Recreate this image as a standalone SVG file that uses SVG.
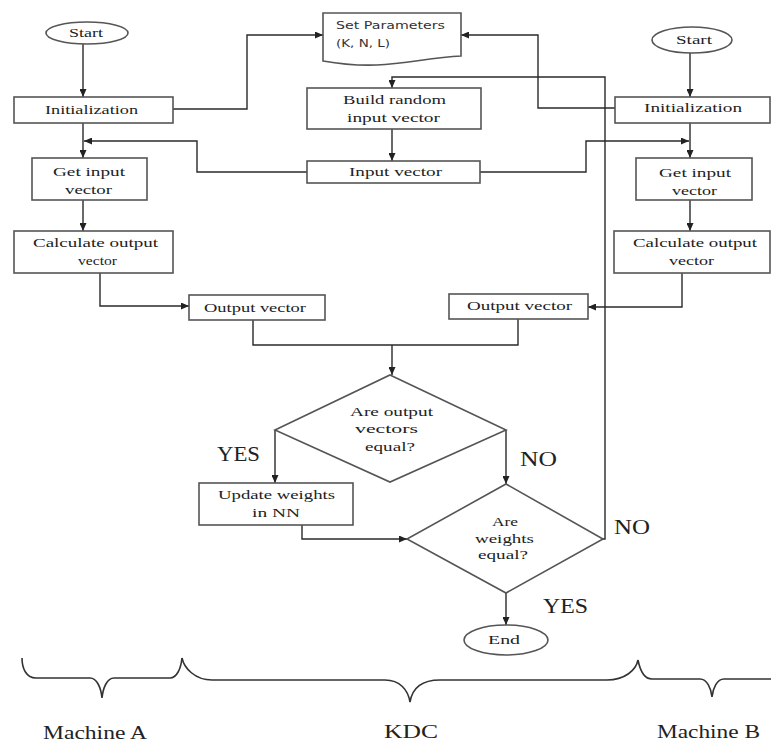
<svg xmlns="http://www.w3.org/2000/svg" width="771" height="745" viewBox="0 0 771 745">
<defs>
<marker id="ah" markerUnits="userSpaceOnUse" markerWidth="8" markerHeight="7" refX="8" refY="3.5" orient="auto">
<path d="M0,0 L8,3.5 L0,7 z" fill="#222"/>
</marker>
<style>
.box{fill:#fff;stroke:#555;stroke-width:1.6}
.t{font-family:"Liberation Serif",serif;font-size:13px;fill:#222;text-anchor:middle}
.ts{font-family:"DejaVu Sans","Liberation Sans",sans-serif;font-size:11px;fill:#333}
.big{font-family:"Liberation Serif",serif;font-size:22px;fill:#222}
.lab{font-family:"Liberation Serif",serif;font-size:19px;fill:#222}
.c{fill:none;stroke:#2a2a2a;stroke-width:1.4}
.a{marker-end:url(#ah)}
.br{fill:none;stroke:#333;stroke-width:1.6}
</style>
</defs>
<rect width="771" height="745" fill="#fff"/>

<g id="connectors">
<path class="c a" d="M83,44 V97"/>
<path class="c a" d="M173,109 H247 V35 H323"/>
<path class="c a" d="M83,123 V158"/>
<path class="c a" d="M307,172 H197 V141 H84"/>
<path class="c a" d="M83,200 V231"/>
<path class="c a" d="M100,273 V306 H189"/>
<path class="c" d="M253,320 V345 H392"/>
<path class="c a" d="M392,345 V375"/>
<path class="c a" d="M690,53 V97"/>
<path class="c a" d="M615,108 H538 V35 H461"/>
<path class="c a" d="M690,123 V158"/>
<path class="c a" d="M480,172 H586 V141 H689"/>
<path class="c a" d="M690,200 V231"/>
<path class="c a" d="M682,273 V307 H588"/>
<path class="c" d="M518,319 V345 H392"/>
<path class="c a" d="M392,129 V161"/>
<path class="c a" d="M275,430 V483"/>
<path class="c a" d="M506,430 V484"/>
<path class="c a" d="M302,525 V539 H407"/>
<path class="c a" d="M506,593 V625"/>
<path class="c a" d="M603,539 H605 V77 H392 V88"/>
</g>

<g id="startA">
<ellipse class="box" cx="87" cy="33" rx="41" ry="11"/>
<text class="t" x="86" y="37" textLength="34" lengthAdjust="spacingAndGlyphs">Start</text>
</g>
<g id="initA">
<rect class="box" x="14" y="97" width="159" height="26"/>
<text class="t" x="91.5" y="114" textLength="93" lengthAdjust="spacingAndGlyphs">Initialization</text>
</g>
<g id="getA">
<rect class="box" x="32" y="158" width="115" height="42"/>
<text class="t" x="89" y="176" textLength="72" lengthAdjust="spacingAndGlyphs">Get input</text>
<text class="t" x="88.5" y="194" textLength="47" lengthAdjust="spacingAndGlyphs">vector</text>
</g>
<g id="calcA">
<rect class="box" x="14" y="231" width="159" height="42"/>
<text class="t" x="95.5" y="247" textLength="125" lengthAdjust="spacingAndGlyphs">Calculate output</text>
<text class="t" x="97.5" y="265" textLength="39" lengthAdjust="spacingAndGlyphs">vector</text>
</g>
<g id="outA">
<rect class="box" x="189" y="295" width="136" height="25"/>
<text class="t" x="255" y="312" textLength="102" lengthAdjust="spacingAndGlyphs">Output vector</text>
</g>

<g id="params">
<path class="box" d="M323,13 H461 V56 C415,58 385,72 323,61 Z"/>
<text class="ts" x="336" y="29" textLength="109" lengthAdjust="spacingAndGlyphs">Set Parameters</text>
<text class="ts" x="336" y="47" textLength="54" lengthAdjust="spacingAndGlyphs">(K, N, L)</text>
</g>
<g id="build">
<rect class="box" x="307" y="88" width="174" height="41"/>
<text class="t" x="394.5" y="104" textLength="103" lengthAdjust="spacingAndGlyphs">Build random</text>
<text class="t" x="393.5" y="122" textLength="93" lengthAdjust="spacingAndGlyphs">input vector</text>
</g>
<g id="inputvec">
<rect class="box" x="307" y="161" width="173" height="22"/>
<text class="t" x="395.5" y="176" textLength="93" lengthAdjust="spacingAndGlyphs">Input vector</text>
</g>

<g id="startB">
<ellipse class="box" cx="692" cy="40" rx="40" ry="13"/>
<text class="t" x="694" y="44" textLength="36" lengthAdjust="spacingAndGlyphs">Start</text>
</g>
<g id="initB">
<rect class="box" x="615" y="97" width="155" height="26"/>
<text class="t" x="693" y="112" textLength="98" lengthAdjust="spacingAndGlyphs">Initialization</text>
</g>
<g id="getB">
<rect class="box" x="636" y="158" width="116" height="42"/>
<text class="t" x="695" y="177" textLength="72" lengthAdjust="spacingAndGlyphs">Get input</text>
<text class="t" x="694.5" y="195" textLength="45" lengthAdjust="spacingAndGlyphs">vector</text>
</g>
<g id="calcB">
<rect class="box" x="614" y="231" width="156" height="42"/>
<text class="t" x="695" y="247" textLength="124" lengthAdjust="spacingAndGlyphs">Calculate output</text>
<text class="t" x="691.5" y="265" textLength="45" lengthAdjust="spacingAndGlyphs">vector</text>
</g>
<g id="outB">
<rect class="box" x="449" y="294" width="139" height="25"/>
<text class="t" x="519.5" y="310" textLength="105" lengthAdjust="spacingAndGlyphs">Output vector</text>
</g>

<g id="cmpOut">
<path class="box" d="M390,375 L506,430 L390,482 L275,430 Z"/>
<text class="t" x="391.5" y="416" textLength="83" lengthAdjust="spacingAndGlyphs">Are output</text>
<text class="t" x="386.5" y="433" textLength="63" lengthAdjust="spacingAndGlyphs">vectors</text>
<text class="t" x="390" y="451" textLength="50" lengthAdjust="spacingAndGlyphs">equal?</text>
</g>
<g id="update">
<rect class="box" x="199" y="483" width="154" height="42"/>
<text class="t" x="276.5" y="499" textLength="117" lengthAdjust="spacingAndGlyphs">Update weights</text>
<text class="t" x="276" y="517" textLength="48" lengthAdjust="spacingAndGlyphs">in NN</text>
</g>
<g id="cmpW">
<path class="box" d="M506,484 L603,539 L506,593 L407,539 Z"/>
<text class="t" x="505" y="526" textLength="26" lengthAdjust="spacingAndGlyphs">Are</text>
<text class="t" x="504.5" y="543" textLength="59" lengthAdjust="spacingAndGlyphs">weights</text>
<text class="t" x="503" y="559" textLength="50" lengthAdjust="spacingAndGlyphs">equal?</text>
</g>
<g id="end">
<ellipse class="box" cx="506" cy="640" rx="42" ry="15"/>
<text class="t" x="504" y="644" textLength="32" lengthAdjust="spacingAndGlyphs">End</text>
</g>

<g id="labels">
<text class="big" x="217" y="461" textLength="43" lengthAdjust="spacingAndGlyphs">YES</text>
<text class="big" x="520" y="466" textLength="37" lengthAdjust="spacingAndGlyphs">NO</text>
<text class="big" x="614" y="534" textLength="36" lengthAdjust="spacingAndGlyphs">NO</text>
<text class="big" x="543" y="613" textLength="45" lengthAdjust="spacingAndGlyphs">YES</text>
</g>

<g id="braces">
<path class="br" d="M22,658 C22,668 26,678 36,678 H90 C97,678 101,688 102,698 C103,688 107,678 114,678 H170 C177,678 181,668 182,658"/>
<path class="br" d="M182,658 C184,668 195,680 212,680 H385 C400,680 408,690 410,702 C412,690 420,680 440,680 H607 C625,680 636,670 638,660"/>
<path class="br" d="M638,660 C640,670 644,679 652,679 H700 C707,679 711,688 712,697 C713,688 717,679 724,679 H771"/>
<text class="lab" x="43" y="739" textLength="104" lengthAdjust="spacingAndGlyphs">Machine A</text>
<text class="lab" x="384" y="738" textLength="54" lengthAdjust="spacingAndGlyphs">KDC</text>
<text class="lab" x="657" y="738" textLength="103" lengthAdjust="spacingAndGlyphs">Machine B</text>
</g>
</svg>
